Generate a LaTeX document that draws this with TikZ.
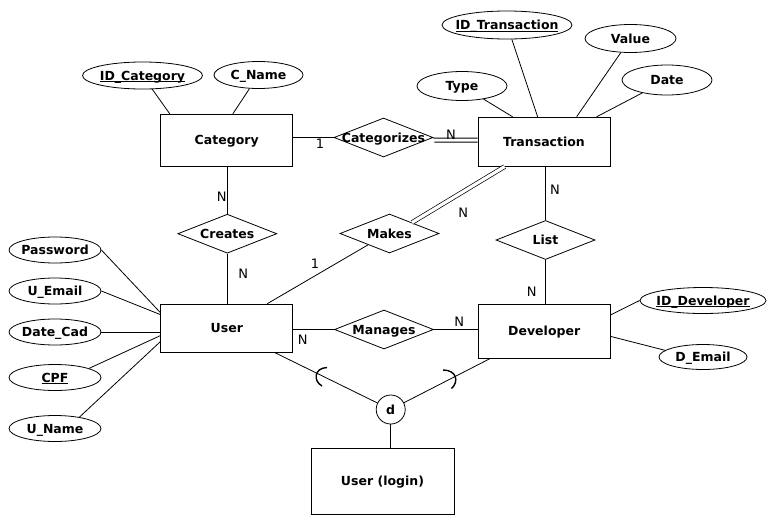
\documentclass[tikz,border=0pt]{standalone}
\usepackage{fontspec}
\setmainfont{DejaVu Sans}
\usetikzlibrary{shapes.geometric,calc}
\newcommand{\zw}[1]{\makebox[0pt]{#1}}
\newcommand{\ulk}[1]{\underline{\smash{#1}}}
\begin{document}
\begin{tikzpicture}[x=1pt,y=-1pt,
  line width=0.8pt,
  base/.style={font=\fontsize{12.5}{14}\selectfont\bfseries, text height=9pt, text depth=0pt},
  ent/.style={base, draw, rectangle, inner sep=0pt},
  rel/.style={base, draw, diamond, inner sep=0pt, minimum width=99pt, minimum height=39pt},
  attr/.style={base, draw, ellipse, inner sep=0pt},
  uattr/.style={attr, minimum width=92pt, minimum height=26pt},
  card/.style={font=\fontsize{13}{15}\selectfont, inner sep=0pt},
  dbl/.style={double, double distance=3.2pt, line width=0.7pt},
  subs/.style={line width=1.4pt}
]
\useasboundingbox (0,0) rectangle (775,525);

% entities
\node[ent, minimum width=132pt, minimum height=52pt] (cat) at (226.7,140.3) {Category};
\node[ent, minimum width=132pt, minimum height=49pt] (tr) at (544,141.7) {Transaction};
\node[ent, minimum width=132pt, minimum height=48pt] (usr) at (226.8,328) {User};
\node[ent, minimum width=132pt, minimum height=54pt] (dev) at (544.2,331.3) {Developer};
\node[ent, minimum width=143pt, minimum height=66pt] (login) at (382.5,481) {User (login)};

% relationships
\node[rel] (categorizes) at (383.5,137.5) {\zw{Categorizes}};
\node[rel] (creates) at (227.3,233.7) {\zw{Creates}};
\node[rel] (makes) at (389.5,233.5) {\zw{Makes}};
\node[rel] (list) at (545.5,240) {\zw{List}};
\node[rel] (manages) at (384,329.5) {\zw{Manages}};
\node[base, draw, circle, minimum size=29pt, inner sep=0pt] (d) at (390.7,409.5) {d};

% attributes
\node[attr, minimum width=120pt, minimum height=27pt] (idcat) at (142.5,75.5) {\zw{\ulk{ID\_Category}}};
\node[attr, minimum width=89pt, minimum height=27pt] (cname) at (258.5,75) {\zw{C\_Name}};
\node[attr, minimum width=130pt, minimum height=28pt] (idtr) at (507,25) {\zw{\ulk{ID\_Transaction}}};
\node[attr, minimum width=91pt, minimum height=28pt] (value) at (630.5,38.5) {\zw{Value}};
\node[attr, minimum width=90pt, minimum height=29pt] (type) at (462,86) {\zw{Type}};
\node[attr, minimum width=90pt, minimum height=30pt] (date) at (667,80) {\zw{Date}};
\node[uattr] (pwd) at (55,250) {\zw{Password}};
\node[uattr] (uemail) at (55,291) {\zw{U\_Email}};
\node[uattr] (datecad) at (55,332) {\zw{Date\_Cad}};
\node[uattr] (cpf) at (55,377.5) {\zw{\ulk{CPF}}};
\node[uattr] (uname) at (55,428.5) {\zw{U\_Name}};
\node[attr, minimum width=126pt, minimum height=26pt] (iddev) at (703,300.5) {\zw{\ulk{ID\_Developer}}};
\node[attr, minimum width=88pt, minimum height=25pt] (demail) at (703,357) {\zw{D\_Email}};

% attribute links
\draw (idcat) -- ($(cat.north west)+(9.5,0)$);
\draw (cname) -- ($(cat.north west)+(72.5,0)$);
\draw (type) -- ($(tr.north west)+(35,0)$);
\draw (idtr) -- ($(tr.north west)+(60,0)$);
\draw (value) -- ($(tr.north west)+(99,0)$);
\draw (date) -- ($(tr.north west)+(119,0)$);
\draw (pwd.east) -- ($(usr.north west)+(0,9)$);
\draw (uemail.east) -- ($(usr.north west)+(0,11)$);
\draw (datecad.east) -- (usr.west |- datecad.east);
\draw (cpf.15) -- ($(usr.north west)+(0,32)$);
\draw (uname.25) -- ($(usr.north west)+(0,38)$);
\draw ($(dev.north east)+(0,11)$) -- (iddev.west);
\draw ($(dev.north east)+(0,32.5)$) -- (demail.170);

% relationship links
\draw (cat.east |- categorizes) -- (categorizes.west);
\draw ($(categorizes.east)+(0,0.6)$) -- ($(tr.west)+(0,-3.6)$);
\draw ($(categorizes.east)+(1,4.6)$) -- ($(tr.west)+(0,0.4)$);
\draw (creates.north) -- (creates.north |- cat.south);
\draw (creates.south) -- (creates.south |- usr.north);
\draw[dbl] ($(makes.north)!0.45!(makes.east)$) -- ($(tr.south west)+(27,0)$);
\draw ($(makes.west)!0.57!(makes.south)$) -- ($(usr.north west)+(107,0)$);
\draw (list.north) -- (list.north |- tr.south);
\draw (list.south) -- (list.south |- dev.north);
\draw (usr.east |- manages) -- (manages.west);
\draw (manages.east) -- (dev.west |- manages);
\draw (d) -- ($(usr.south west)+(114,0)$);
\draw (d) -- ($(dev.south west)+(12,0)$);
\draw (d) -- (d |- login.north);

% subset marks
\draw[subs] (327,367.5) .. controls (314,368) and (313,381) .. (322,386);
\draw[subs] (443,370) .. controls (457,370) and (459,382) .. (451.5,388.5);

% cardinalities
\node[card] (c1) at (320,143.3) {1};
\node[card] (c2) at (451,135) {N};
\node[card] (c3) at (221.7,196.7) {N};
\node[card] (c4) at (243.3,274) {N};
\node[card] (c5) at (315,263.3) {1};
\node[card] (c6) at (463.3,212.3) {N};
\node[card] (c7) at (555,190) {N};
\node[card] (c8) at (531.7,291.7) {N};
\node[card] (c9) at (302.7,340) {N};
\node[card] (c10) at (459.3,321.7) {N};
\end{tikzpicture}
\end{document}
